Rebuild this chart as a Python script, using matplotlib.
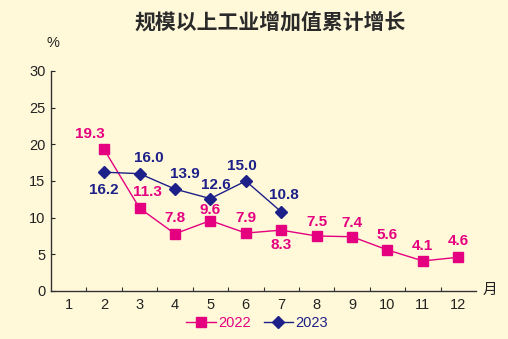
import matplotlib.pyplot as plt
import numpy as np
from matplotlib.ticker import FixedLocator

# data
months = [1, 2, 3, 4, 5, 6, 7, 8, 9, 10, 11, 12]
m22 = [2, 3, 4, 5, 6, 7, 8, 9, 10, 11, 12]
v22 = [19.3, 11.3, 7.8, 9.6, 7.9, 8.3, 7.5, 7.4, 5.6, 4.1, 4.6]
m23 = [2, 3, 4, 5, 6, 7]
v23 = [16.2, 16.0, 13.9, 12.6, 15.0, 10.8]
yticks = [0, 5, 10, 15, 20, 25, 30]

bg = '#FFF9DA'
pink = '#E4007F'
navy = '#1D2088'

plt.rcParams['font.family'] = ['Liberation Sans', 'Noto Sans CJK SC', 'DejaVu Sans']

fig = plt.figure(figsize=(5.08, 3.39), dpi=100, facecolor=bg)
ax = fig.add_axes([51/508, 1 - 291/339, (476 - 51)/508, (291 - 71)/339])
ax.set_facecolor(bg)

l22, = ax.plot(m22, v22, color=pink, lw=1.0, marker='s', ms=7, label='2022')
l23, = ax.plot(m23, v23, color=navy, lw=1.0, marker='D', ms=6.5, label='2023')

# label offsets (pixels, x right / y up) from the marker to the label centre
off22 = {2: (-14, 15), 3: (8, 16), 4: (0, 16), 5: (0, 11), 6: (0, 15), 7: (0, -15),
         8: (0, 14), 9: (0, 14), 10: (0, 15), 11: (0, 15), 12: (0, 16)}
off23 = {2: (0, -18), 3: (9, 16), 4: (10, 15), 5: (5, 14), 6: (-4, 15), 7: (3, 17)}

px = 72 / 100
for ms_, vs_, offs, col in [(m22, v22, off22, pink), (m23, v23, off23, navy)]:
    for m, v in zip(ms_, vs_):
        dx, dy = offs[m]
        ax.annotate(f'{v:.1f}', (m, v), xytext=(dx * px, dy * px), textcoords='offset points',
                    ha='center', va='center', color=col, fontsize=11, fontweight='bold')

ax.set_xlim(0.5, 12.5)
ax.set_ylim(0, 30)
ax.set_yticks(yticks)
ax.set_xticks(months)
ax.xaxis.set_minor_locator(FixedLocator(np.arange(1.5, 12.5, 1)))
ax.tick_params(axis='x', which='major', length=0, labelsize=10.5, pad=5, colors='#222222')
ax.tick_params(axis='x', which='minor', direction='in', length=3, width=0.8, color='#333333')
ax.tick_params(axis='y', direction='in', length=3, width=0.8, labelsize=10.5, pad=4,
               colors='#222222')
for s in ['top', 'right']:
    ax.spines[s].set_visible(False)
for s in ['left', 'bottom']:
    ax.spines[s].set_linewidth(1.0)
    ax.spines[s].set_color('#333333')

fig.text(270/508, 1 - 22/339, '规模以上工业增加值累计增长', ha='center', va='center',
         fontsize=15, fontweight='bold', color='#2a2a2a', family=['Noto Sans CJK SC'])
fig.text(53/508, 1 - 43/339, '%', ha='center', va='center', fontsize=10.5, color='#222222')
fig.text(490/508, 1 - 290/339, '月', ha='center', va='center', fontsize=10.5,
         color='#222222', family=['Noto Sans CJK SC'])

leg = fig.legend(handles=[l22, l23], loc='center', bbox_to_anchor=(257/508, 1 - 323/339),
                 ncol=2, frameon=False, fontsize=10.5, handlelength=2.0, handletextpad=0.15,
                 columnspacing=0.9, markerscale=1.0, borderpad=0.0)
for t, c in zip(leg.get_texts(), [pink, navy]):
    t.set_color(c)

fig.savefig('out.png', dpi=100, facecolor=bg)
